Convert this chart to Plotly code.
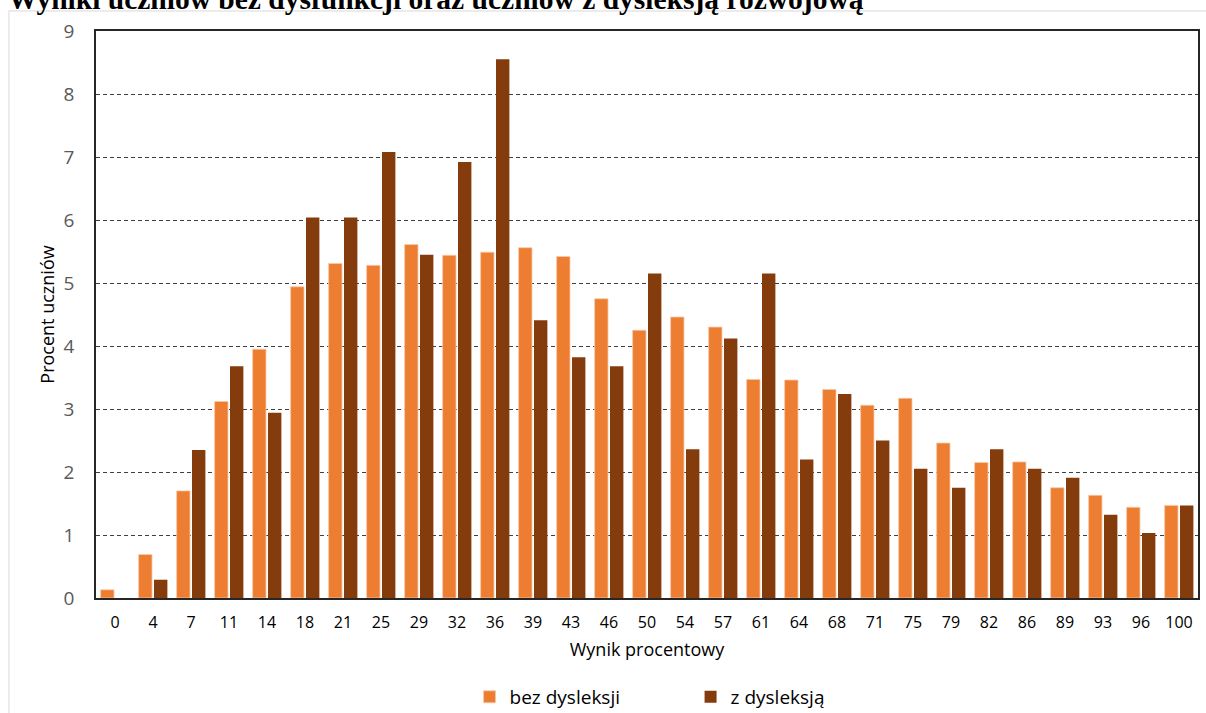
import plotly.graph_objects as go

# kategorie osi X (wynik procentowy)
wyniki = ['0', '4', '7', '11', '14', '18', '21', '25', '29', '32', '36', '39', '43', '46', '50',
          '54', '57', '61', '64', '68', '71', '75', '79', '82', '86', '89', '93', '96', '100']

# procent uczniow bez dysleksji
bez_dysleksji = [0.13, 0.69, 1.70, 3.12, 3.95, 4.94, 5.31, 5.28, 5.61, 5.44, 5.49, 5.56, 5.42, 4.75, 4.25,
                 4.46, 4.30, 3.47, 3.46, 3.31, 3.06, 3.17, 2.46, 2.15, 2.16, 1.75, 1.63, 1.44, 1.47]

# procent uczniow z dysleksja
z_dysleksja = [0.0, 0.29, 2.35, 3.68, 2.94, 6.04, 6.04, 7.08, 5.45, 6.92, 8.55, 4.41, 3.82, 3.68, 5.15,
               2.36, 4.12, 5.15, 2.20, 3.24, 2.50, 2.05, 1.75, 2.36, 2.05, 1.91, 1.32, 1.03, 1.47]

tytul = 'Wyniki uczniów bez dysfunkcji oraz uczniów z dysleksją rozwojową'

font_main = 'Open Sans, Noto Sans, sans-serif'

fig = go.Figure()
fig.add_trace(go.Bar(x=wyniki, y=bez_dysleksji, name='bez dysleksji',
                     marker=dict(color='#ED7D31', line=dict(color='#F8C9A8', width=0.8))))
fig.add_trace(go.Bar(x=wyniki, y=z_dysleksja, name='z dysleksją',
                     marker=dict(color='#843C0C', line=dict(width=0))))

fig.update_layout(
    width=1206, height=713,
    margin=dict(l=96, r=6, t=31, b=115),
    paper_bgcolor='white', plot_bgcolor='white',
    barmode='group', bargap=0.19, bargroupgap=0.13,
    font=dict(family=font_main, color='black'),
    showlegend=True,
    legend=dict(orientation='h', x=0.339, xanchor='left', yref='container', y=0.0225, yanchor='middle',
                font=dict(size=19, color='black'), entrywidth=176, entrywidthmode='pixels',
                traceorder='normal'),
    xaxis=dict(
        type='category', showline=True, linecolor='#262626', linewidth=1.5, mirror=True,
        showgrid=False, ticks='', tickfont=dict(size=16, color='black'),
        ticklabelstandoff=9,
        title=dict(text='Wynik procentowy', font=dict(size=18, color='black'), standoff=11),
    ),
    yaxis=dict(
        range=[0, 9], dtick=1, showline=True, linecolor='#262626', linewidth=1.5, mirror=True,
        showgrid=True, gridcolor='#404040', gridwidth=1, griddash='4px,3px',
        zeroline=False, ticks='', tickfont=dict(size=19, color='#595959'),
        ticklabelstandoff=16,
        title=dict(text='Procent uczniów', font=dict(size=18, color='black'), standoff=4),
    ),
    shapes=[dict(type='rect', xref='paper', yref='paper', x0=-0.079, x1=1.2, y0=-0.4, y1=1.0353,
                 line=dict(color='#D9D9D9', width=1), layer='below')],
    annotations=[dict(text='<b>' + tytul + '</b>', xref='paper', yref='paper', x=-0.082, y=1.0247,
                      xanchor='left', yanchor='bottom', showarrow=False,
                      font=dict(family='Liberation Serif, Times New Roman, serif', size=29.5, color='black'))],
)

fig.write_html("out.html", config={'displayModeBar': False},
               post_script="document.body.style.margin='0px';")
